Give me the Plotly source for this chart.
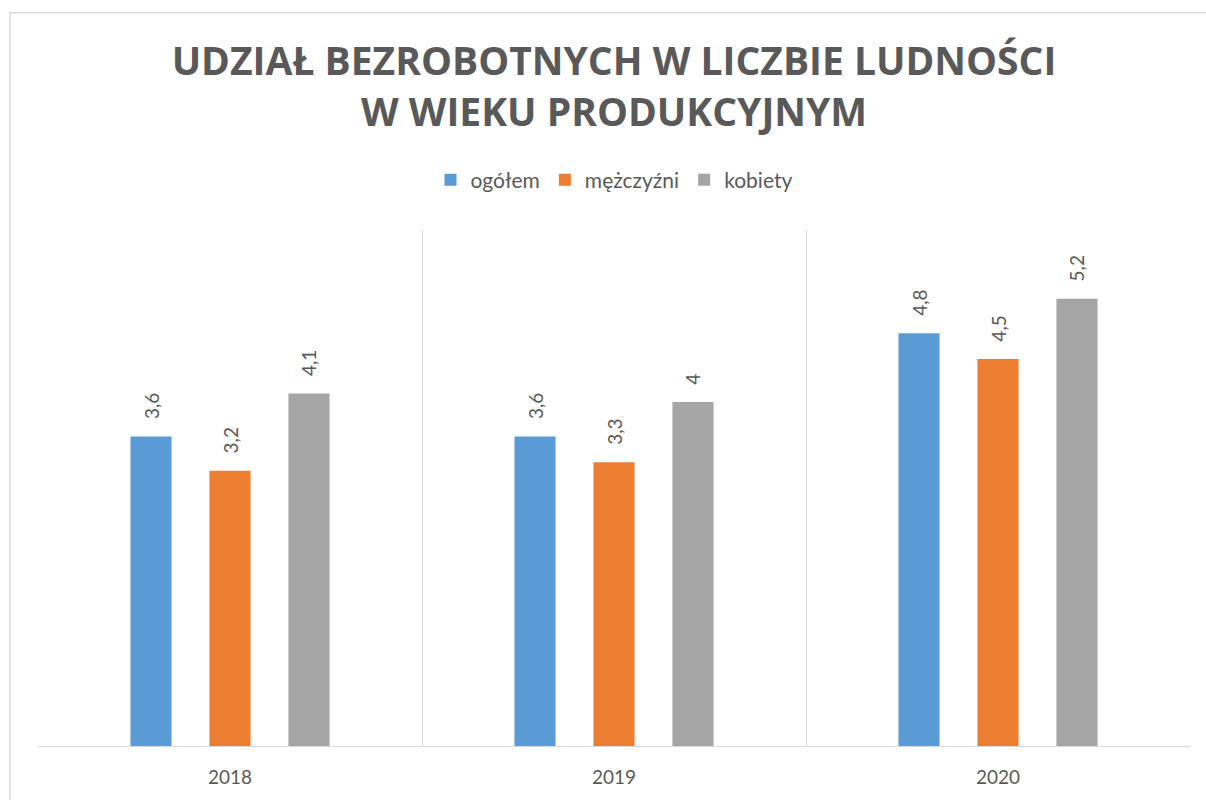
import plotly.graph_objects as go

years = ["2018", "2019", "2020"]
series_names = ["ogółem", "mężczyźni", "kobiety"]
ogolem = [3.6, 3.6, 4.8]
mezczyzni = [3.2, 3.3, 4.5]
kobiety = [4.1, 4.0, 5.2]
colors = ["#5B9BD5", "#ED7D31", "#A5A5A5"]

title_text = "UDZIAŁ BEZROBOTNYCH W LICZBIE LUDNOŚCI<br>W WIEKU PRODUKCYJNYM"

def fmt(v):
    s = ("%g" % v).replace(".", ",")
    return "\u2002\u00a0" + s

fig = go.Figure()
for name, vals, col in zip(series_names, [ogolem, mezczyzni, kobiety], colors):
    fig.add_trace(go.Bar(
        x=years, y=vals, name=name,
        marker=dict(color=col, line=dict(width=0)),
        text=[fmt(v) for v in vals],
        textposition="outside",
        textangle=-90,
        constraintext="none",
        cliponaxis=False,
        textfont=dict(family="Lato, sans-serif", size=19, color="#595959"),
        hoverinfo="skip",
    ))

W, H = 1206, 800
ml, mr, mt, mb = 38, 16, 230, 52
pw, ph = W - ml - mr, H - mt - mb

def px_to_paper_x(px):
    return (px - ml) / pw

def px_to_paper_y(py):
    return (H - mb - py) / ph

fig.update_layout(
    width=W, height=H,
    margin=dict(l=ml, r=mr, t=mt, b=mb),
    paper_bgcolor="white",
    plot_bgcolor="white",
    barmode="group",
    bargap=0.383,
    bargroupgap=0.48,
    title=dict(
        text=title_text,
        x=0.5, xref="paper", xanchor="center",
        y=0.906, yref="container", yanchor="top",
        font=dict(family="Open Sans, sans-serif", size=39, color="#595959", weight="bold"),
    ),
    legend=dict(
        orientation="h",
        x=0.5, xanchor="center",
        y=px_to_paper_y(180), yanchor="middle",
        font=dict(family="Lato, sans-serif", size=21, color="#595959"),
        itemwidth=30,
        bgcolor="rgba(0,0,0,0)",
    ),
    xaxis=dict(
        type="category",
        tickson="boundaries",
        showgrid=True,
        gridcolor="#D9D9D9",
        gridwidth=1,
        showline=True,
        linecolor="#D9D9D9",
        linewidth=1,
        ticks="",
        tickfont=dict(family="Lato, sans-serif", size=19, color="#595959"),
        ticklabelstandoff=14,
        range=[-0.5, 2.5],
        fixedrange=True,
    ),
    yaxis=dict(
        range=[0, 6],
        showgrid=False,
        zeroline=False,
        showticklabels=False,
        showline=False,
        fixedrange=True,
    ),
    shapes=[dict(
        type="rect", xref="paper", yref="paper",
        x0=px_to_paper_x(10), x1=px_to_paper_x(1215),
        y0=px_to_paper_y(810), y1=px_to_paper_y(12),
        line=dict(color="#D9D9D9", width=1.5),
        fillcolor="rgba(0,0,0,0)",
        layer="below",
    )],
)

fig.write_html(
    "out.html",
    config={"displayModeBar": False},
    post_script="document.body.style.margin='0';document.body.style.overflow='hidden';",
)
